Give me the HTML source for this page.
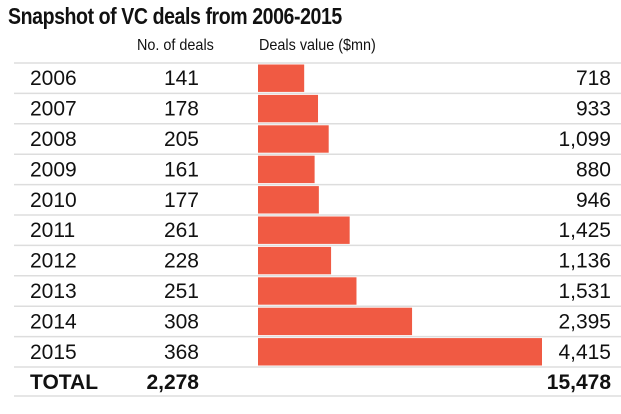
<!DOCTYPE html>
<html><head><meta charset="utf-8"><style>
body{margin:0;background:#fff;width:621px;height:414px;overflow:hidden;position:relative;font-family:"Liberation Sans Narrow","Liberation Sans",sans-serif;color:#111}
.t{position:absolute;white-space:nowrap;transform-origin:0 0}
</style></head><body>
<div class="t" style="left:8px;top:3px;font-size:23px;font-weight:bold;letter-spacing:-0.5px;transform:scaleX(0.85)">Snapshot of VC deals from 2006-2015</div>
<div class="t" style="left:137px;top:37px;font-size:16px;transform:scaleX(0.9)">No. of deals</div>
<div class="t" style="left:259px;top:37px;font-size:16px;transform:scaleX(0.9)">Deals value ($mn)</div>
<svg id="c" width="621" height="414" style="position:absolute;left:0;top:0"></svg>
<script>
const years=["2006","2007","2008","2009","2010","2011","2012","2013","2014","2015"];
const deals=[141,178,205,161,177,261,228,251,308,368];
const values=[718,933,1099,880,946,1425,1136,1531,2395,4415];
const totalDeals="2,278";
const totalValue="15,478";
const svg=document.getElementById('c');
const NS="http://www.w3.org/2000/svg";
const top0=63,rowH=(367-63)/years.length,x0=258;
const maxV=Math.max(...values);
const xs=v=>x0+v*(542-x0)/maxV;
const fmt=n=>n.toLocaleString('en-US');
function mk(tag,attrs,txt){const e=document.createElementNS(NS,tag);for(const k in attrs)e.setAttribute(k,attrs[k]);if(txt!=null)e.textContent=txt;svg.appendChild(e);return e;}
function line(y,name){const l=mk('line',{x1:14,x2:621,y1:y,y2:y,stroke:'#ddd','stroke-width':1.5});}
line(top0,'table-top-rule');
years.forEach((yr,i)=>{
  const y=top0+i*rowH;
  if(i>0)line(y,'row-rule');
  const b=mk('rect',{x:x0,y:y+1.5,width:xs(values[i])-x0,height:rowH-3,fill:'#f05a43'});
  
  
  const cy=y+rowH/2+7;
  const a=mk('text',{x:30,y:cy,'font-size':21,fill:'#111'},yr);
  
  
  const d=mk('text',{x:199,y:cy,'font-size':21,'text-anchor':'end',fill:'#111'},fmt(deals[i]));
  
  
  const v=mk('text',{x:611,y:cy,'font-size':21,'text-anchor':'end',fill:'#111'},fmt(values[i]));
  
  
});
line(367,'total-rule');
line(396,'table-bottom-rule');
const ty=389;
const t1=mk('text',{x:30,y:ty,'font-size':21,'font-weight':'bold',fill:'#111'},'TOTAL');


const t2=mk('text',{x:199,y:ty,'font-size':21,'font-weight':'bold','text-anchor':'end',fill:'#111'},totalDeals);


const t3=mk('text',{x:611,y:ty,'font-size':21,'font-weight':'bold','text-anchor':'end',fill:'#111'},totalValue);


</script>
</body></html>
